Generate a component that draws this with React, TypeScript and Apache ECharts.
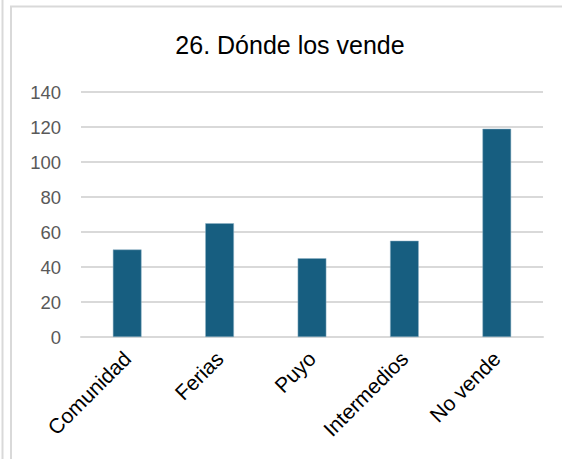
import React, { useEffect, useRef } from "react";
import * as echarts from "echarts";

const categories = ["Comunidad", "Ferias", "Puyo", "Intermedios", "No vende"];
const values = [50, 65, 45, 55, 119];
const titleText = "26. Dónde los vende";

export default function App() {
  const ref = useRef<HTMLDivElement>(null);
  useEffect(() => {
    if (!ref.current) return;
    const chart = echarts.init(ref.current, undefined, { renderer: "svg" });
    chart.setOption({
      animation: false,
      backgroundColor: "#ffffff",
      graphic: [
        {
          type: "line",
          shape: { x1: 2.5, y1: 0, x2: 2.5, y2: 459 },
          style: { stroke: "#d9d9d9", lineWidth: 2 },
        },
        {
          type: "polyline",
          shape: { points: [[11, 459], [11, 6.5], [562, 6.5]] },
          style: { stroke: "#d9d9d9", lineWidth: 2, fill: "none" },
        },
        {
          type: "text",
          x: 290,
          y: 45,
          style: {
            text: titleText,
            fontFamily: "Liberation Sans",
            fontSize: 25,
            fill: "#000000",
            align: "center",
            verticalAlign: "middle",
          },
        },
      ],
      grid: { left: 81, right: 19, top: 92, bottom: 122, containLabel: false },
      xAxis: {
        type: "category",
        data: categories,
        axisLine: { show: true, lineStyle: { color: "#d9d9d9", width: 2 } },
        axisTick: { show: false },
        axisLabel: {
          rotate: 45,
          margin: 18,
          interval: 0,
          fontFamily: "Liberation Sans",
          fontSize: 21,
          color: "#000000",
        },
      },
      yAxis: {
        type: "value",
        min: 0,
        max: 140,
        interval: 20,
        axisLine: { show: false },
        axisTick: { show: false },
        splitLine: { lineStyle: { color: "#d9d9d9", width: 2 } },
        axisLabel: {
          margin: 20,
          fontFamily: "Liberation Sans",
          fontSize: 18.5,
          color: "#595959",
        },
      },
      series: [
        {
          type: "bar",
          data: values,
          barWidth: "31%",
          itemStyle: { color: "#175E80", borderColor: "#8fb2c4", borderWidth: 0.5 },
        },
      ],
    });
    return () => chart.dispose();
  }, []);
  return (
    <div
      ref={ref}
      style={{ position: "absolute", left: 0, top: 0, width: 562, height: 459 }}
    />
  );
}
